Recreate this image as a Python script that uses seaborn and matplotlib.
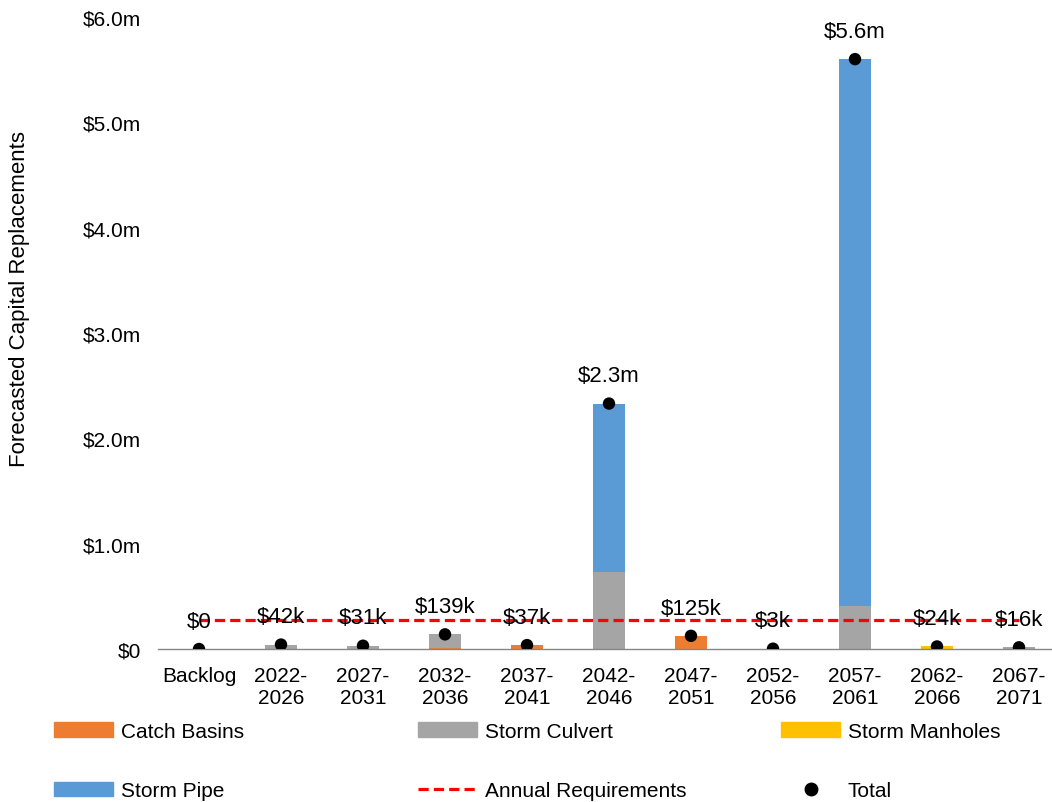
import numpy as np
import pandas as pd
import matplotlib
matplotlib.use("Agg")
import matplotlib.pyplot as plt
import seaborn as sns
from matplotlib.patches import Patch
from matplotlib.lines import Line2D

# ---- data (values in $ thousands) ----
categories = ["Backlog", "2022-\n2026", "2027-\n2031", "2032-\n2036", "2037-\n2041",
              "2042-\n2046", "2047-\n2051", "2052-\n2056", "2057-\n2061",
              "2062-\n2066", "2067-\n2071"]
catch_basins   = [0, 0, 0, 10, 37, 0, 125, 0, 0, 0, 0]
storm_culvert  = [0, 42, 31, 129, 0, 730, 0, 3, 410, 0, 16]
storm_manholes = [0, 0, 0, 0, 0, 0, 0, 0, 0, 24, 0]
storm_pipe     = [0, 0, 0, 0, 0, 1600, 0, 0, 5190, 0, 0]
annual_requirement = 272  # $k per year
ytick_labels = ["$0", "$1.0m", "$2.0m", "$3.0m", "$4.0m", "$5.0m", "$6.0m"]

col_cb = "#ED7D31"
col_cu = "#A5A5A5"
col_mh = "#FFC000"
col_sp = "#5B9BD5"

sns.set_theme(style="white")
plt.rcParams["font.family"] = ["Liberation Sans", "DejaVu Sans"]
plt.rcParams["text.color"] = "black"
plt.rcParams["xtick.color"] = "black"
plt.rcParams["ytick.color"] = "black"
plt.rcParams["axes.labelcolor"] = "black"

df = pd.DataFrame({
    "cat": categories,
    "cb": np.array(catch_basins) / 1000.0,
    "cu": np.array(storm_culvert) / 1000.0,
    "mh": np.array(storm_manholes) / 1000.0,
    "sp": np.array(storm_pipe) / 1000.0,
})
df["l1"] = df["cb"]
df["l2"] = df["l1"] + df["cu"]
df["l3"] = df["l2"] + df["mh"]
df["l4"] = df["l3"] + df["sp"]
df["total"] = df["l4"]
df["req"] = annual_requirement / 1000.0

fig = plt.figure(figsize=(10.52, 8.03), dpi=100)
left_px = 158
ax = fig.add_axes([left_px / 1052, 1 - 650 / 803, (1052 - left_px) / 1052, 632 / 803])

bw = 0.40
for col, c in [("l4", col_sp), ("l3", col_mh), ("l2", col_cu), ("l1", col_cb)]:
    sns.barplot(data=df, x="cat", y=col, color=c, saturation=1, width=bw,
                errorbar=None, linewidth=0, ax=ax, zorder=2)

sns.lineplot(data=df, x="cat", y="req", color="#FF0000", linewidth=2.3,
             ax=ax, zorder=3, sort=False)
ax.lines[-1].set_dashes((3.2, 1.6))

sns.scatterplot(data=df, x="cat", y="total", color="black", s=80,
                edgecolor="none", ax=ax, zorder=5, legend=False)

def fmt(v):
    k = v * 1000
    if k == 0:
        return "$0"
    if k < 1000:
        return "${:.0f}k".format(k)
    return "${:.1f}m".format(v)

for i, v in enumerate(df["total"]):
    ax.annotate(fmt(v), (i, v), xytext=(0, 20), textcoords="offset points",
                ha="center", va="center", fontsize=16, color="black", zorder=6)

ax.set_yticks(np.arange(0, 7, 1))
ax.set_yticklabels(ytick_labels, fontsize=15)
ax.set_xticks(np.arange(-0.5, 11, 1), minor=True)
ax.tick_params(axis="x", which="major", length=0, pad=12, labelsize=15)
ax.tick_params(axis="x", which="minor", length=6, width=1, color="#868686", direction="out")
ax.tick_params(axis="y", length=0, pad=12)
ax.set_ylim(0, 6)
ax.set_xlim(-0.5, -0.5 + (1052 - left_px) / 82.0)
ax.set_xlabel("")
ax.set_ylabel("")
for s in ["left", "top", "right"]:
    ax.spines[s].set_visible(False)
ax.spines["bottom"].set_color("#868686")
ax.spines["bottom"].set_linewidth(1)
ax.grid(False)

fig.text(20 / 1052, 1 - 299 / 803, "Forecasted Capital Replacements",
         rotation=90, ha="center", va="center", fontsize=16)

leg_kw = dict(loc="center left", frameon=False, fontsize=15, borderpad=0,
              borderaxespad=0, handlelength=2.85, handletextpad=0.35,
              labelspacing=1.95)
y_leg = 1 - 762 / 803
fig.legend(handles=[Patch(color=col_cb, label="Catch Basins"),
                    Patch(color=col_sp, label="Storm Pipe")],
           bbox_to_anchor=(54 / 1052, y_leg), **leg_kw)
fig.legend(handles=[Patch(color=col_cu, label="Storm Culvert"),
                    Line2D([], [], color="#FF0000", lw=2.3, dashes=(3.2, 1.6),
                           label="Annual Requirements")],
           bbox_to_anchor=(418 / 1052, y_leg), **leg_kw)
fig.legend(handles=[Patch(color=col_mh, label="Storm Manholes"),
                    Line2D([], [], color="black", marker="o", linestyle="none",
                           markersize=9, label="Total")],
           bbox_to_anchor=(781 / 1052, y_leg), **leg_kw)

fig.savefig("out.png", dpi=100)
